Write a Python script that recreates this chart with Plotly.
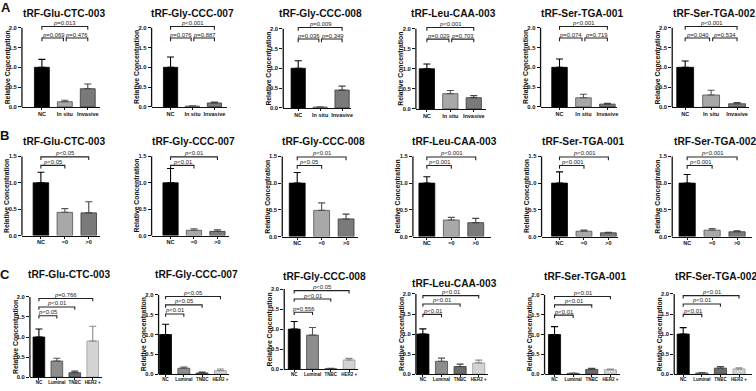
import plotly.graph_objects as go

W, H = 756, 391
FONT = "Liberation Sans, Arial, sans-serif"

# ---------------- data ----------------
titles = ["tRF-Glu-CTC-003", "tRF-Gly-CCC-007", "tRF-Gly-CCC-008",
          "tRF-Leu-CAA-003", "tRF-Ser-TGA-001", "tRF-Ser-TGA-002"]

groups_a = ["NC", "In situ", "Invasive"]
groups_b = ["NC", "=0", ">0"]
groups_c = ["NC", "Luminal", "TNBC", "HER2 +"]

mean_a = [[1.0, 0.13, 0.46], [1.0, 0.02, 0.10], [1.0, 0.02, 0.45],
          [1.0, 0.38, 0.28], [1.0, 0.23, 0.07], [1.0, 0.30, 0.08]]
sem_a = [[0.20, 0.04, 0.12], [0.26, 0.01, 0.02], [0.19, 0.01, 0.10],
         [0.12, 0.08, 0.05], [0.21, 0.09, 0.02], [0.16, 0.12, 0.03]]
p_a = [["p=0.013", "p=0.069", "p=0.476"], ["p<0.001", "p=0.076", "p=0.887"],
       ["p=0.009", "p=0.036", "p=0.349"], ["p<0.001", "p=0.029", "p=0.703"],
       ["p<0.001", "p=0.074", "p=0.719"], ["p<0.001", "p=0.040", "p=0.534"]]

mean_b = [[1.0, 0.44, 0.43], [1.0, 0.10, 0.08], [1.0, 0.49, 0.33],
          [1.0, 0.31, 0.26], [1.0, 0.10, 0.07], [1.0, 0.12, 0.09]]
sem_b = [[0.20, 0.07, 0.21], [0.27, 0.03, 0.03], [0.20, 0.14, 0.09],
         [0.12, 0.05, 0.08], [0.21, 0.02, 0.01], [0.16, 0.03, 0.02]]
p_b = [["p<0.05", "p<0.05"], ["p<0.01", "p<0.01"], ["p<0.01", "p<0.05"],
       ["p<0.001", "p<0.001"], ["p<0.001", "p<0.001"], ["p<0.001", "p<0.001"]]

mean_c = [[1.0, 0.40, 0.11, 0.90], [1.0, 0.15, 0.03, 0.09], [1.0, 0.85, 0.01, 0.23],
          [1.0, 0.32, 0.19, 0.28], [1.0, 0.02, 0.12, 0.11], [1.0, 0.03, 0.15, 0.13]]
sem_c = [[0.20, 0.07, 0.04, 0.37], [0.26, 0.03, 0.02, 0.04], [0.19, 0.19, 0.01, 0.04],
         [0.13, 0.08, 0.06, 0.07], [0.20, 0.01, 0.03, 0.02], [0.16, 0.01, 0.04, 0.03]]
p_c = [["p=0.766", "p<0.01", "p<0.05"], ["p<0.05", "p<0.05", "p<0.01"],
       ["p<0.05", "p<0.01", "p=0.556"], ["p<0.01", "p<0.01", "p<0.01"],
       ["p<0.01", "p<0.01", "p<0.01"], ["p<0.01", "p<0.01", "p<0.01"]]

yticks_a = [0.0, 0.5, 1.0, 1.5, 2.0]
yticks_b = [0.0, 0.5, 1.0, 1.5]
yticks_c = [0.0, 0.5, 1.0, 1.5, 2.0]

# ---------------- styling / geometry ----------------
fill_ab = ["#000000", "#a8a8a8", "#7a7a7a"]
line_ab = ["#000000", "#505050", "#3a3a3a"]
err_ab = ["#000000", "#555555", "#444444"]
fill_c = ["#000000", "#8d8d8d", "#6a6a6a", "#d3d3d3"]
line_c = ["#000000", "#4a4a4a", "#3a3a3a", "#9a9a9a"]
err_c = ["#000000", "#555555", "#444444", "#8a8a8a"]

# (axis left px, axis right px, first bar centre px, last bar centre px, y=0 px, top tick px)
geom_a = [(22, 100, 42, 88, 107, 27), (152, 228, 171, 215, 107, 27),
          (284, 352, 299, 343, 108, 28), (417, 487, 428, 475, 109, 28),
          (542, 619, 561, 609, 107, 27), (674, 751, 687, 739, 107, 27)]
geom_b = [(22, 100, 41, 89, 237, 157), (152, 230, 171, 218, 237, 157),
          (283, 359, 298, 347, 238, 157), (414, 492, 428, 477, 238, 157),
          (543, 620, 561, 610, 238, 157), (674, 754, 689, 739, 238, 157)]
geom_c = [(30, 102, 39, 93, 380, 299), (159, 230, 166, 221, 377, 297),
          (285, 359, 295, 350, 372, 291), (417, 489, 424, 480, 377, 296),
          (546, 622, 556, 612, 377, 297), (676, 754, 685, 741, 377, 296)]

title_y_a = [13] * 6
title_y_b = [142] * 6
title_y_c = [276, 276, 278, 285, 278, 278]

g = 0.06
brackets_a = [[(0, 2, 2.03), (0, 1 - g, 1.74), (1 + g, 2, 1.74)]] * 6
brackets_b = [[(0, 2, 1.49), (0, 1, 1.33)]] * 6
lows_c = [1.53, 1.52, 1.42, 1.49, 1.49, 1.49]
brackets_c = [[(0, 3, 1.96), (0, 2, 1.75), (0, 1, lo)] for lo in lows_c]

rows = [
    dict(groups=groups_a, means=mean_a, sems=sem_a, ps=p_a, fills=fill_ab, lines=line_ab,
         errs=err_ab, yticks=yticks_a, ymax=2.08, br=brackets_a, drop=0.08, geom=geom_a,
         ty=title_y_a, xfs=5.5, bw=0.65, stand=-1),
    dict(groups=groups_b, means=mean_b, sems=sem_b, ps=p_b, fills=fill_ab, lines=line_ab,
         errs=err_ab, yticks=yticks_b, ymax=1.54, br=brackets_b, drop=0.06, geom=geom_b,
         ty=title_y_b, xfs=5.5, bw=0.65, stand=-1),
    dict(groups=groups_c, means=mean_c, sems=sem_c, ps=p_c, fills=fill_c, lines=line_c,
         errs=err_c, yticks=yticks_c, ymax=2.04, br=brackets_c, drop=0.07, geom=geom_c,
         ty=title_y_c, xfs=4.5, bw=0.65, stand=-2),
]

fig = go.Figure()
layout = {}
annotations = []
shapes = []
k = 0
for row in rows:
    for j in range(6):
        k += 1
        sfx = "" if k == 1 else str(k)
        xa, ya = "x" + sfx, "y" + sfx
        xl, xr, c0, c1, y0, yt = row["geom"][j]
        groups = row["groups"]
        n = len(groups)
        ppu = (c1 - c0) / (n - 1)
        xlo = -(c0 - xl) / ppu
        xhi = (n - 1) + (xr - c1) / ppu
        ytop = row["yticks"][-1]
        ppv = (y0 - yt) / ytop
        top_px = y0 - row["ymax"] * ppv

        for i in range(n):
            fig.add_trace(go.Bar(
                x=[i], y=[row["means"][j][i]], width=row["bw"],
                marker=dict(color=row["fills"][i], line=dict(color=row["lines"][i], width=0.8)),
                error_y=dict(type="data", array=[row["sems"][j][i]], arrayminus=[0],
                             symmetric=False, color=row["errs"][i], thickness=1.1, width=3.5),
                xaxis=xa, yaxis=ya, showlegend=False, hoverinfo="skip"))

        layout["xaxis" + sfx] = dict(
            domain=[xl / W, xr / W], range=[xlo, xhi], anchor=ya,
            tickvals=list(range(n)), ticktext=groups, tickangle=0,
            showline=True, linecolor="#111111", linewidth=1.3,
            ticks="outside", ticklen=2, tickwidth=1, tickcolor="#111111",
            ticklabelstandoff=row["stand"],
            tickfont=dict(size=row["xfs"], family=FONT, color="#111111", weight="bold"),
            showgrid=False, zeroline=False, fixedrange=True)
        layout["yaxis" + sfx] = dict(
            domain=[1 - y0 / H, 1 - top_px / H], range=[0, row["ymax"]], anchor=xa,
            tickvals=row["yticks"], ticktext=[f"{v:.1f}" for v in row["yticks"]],
            showline=False, ticks="outside", ticklen=3, tickwidth=1, tickcolor="#111111",
            tickfont=dict(size=5.8, family=FONT, color="#111111", weight="bold"),
            showgrid=False, zeroline=False, fixedrange=True)

        # y axis line up to the top tick
        shapes.append(dict(type="line", xref=xa + " domain", yref=ya + " domain",
                           x0=0, x1=0, y0=0, y1=ytop / row["ymax"],
                           line=dict(color="#111111", width=1.3)))

        # significance brackets
        d = row["drop"]
        for (a, b, lev), ptxt in zip(row["br"][j], row["ps"][j]):
            shapes.append(dict(type="path", xref=xa, yref=ya,
                               path=f"M {a},{lev - d} L {a},{lev} L {b},{lev} L {b},{lev - d}",
                               line=dict(color="#222222", width=1.1)))
            annotations.append(dict(xref=xa, yref=ya, x=(a + b) / 2, y=lev,
                                    text="<i>p</i>" + ptxt[1:], showarrow=False,
                                    yanchor="bottom", yshift=-1.5,
                                    font=dict(size=5.9, family=FONT, color="#222222")))

        # panel title
        annotations.append(dict(xref="paper", yref="paper", x=((xl + xr) / 2 + 3) / W,
                                y=1 - row["ty"][j] / H, text=titles[j], showarrow=False,
                                xanchor="center", yanchor="middle",
                                font=dict(size=10.2, family=FONT, color="#111111", weight="bold")))
        # y axis title
        annotations.append(dict(xref="paper", yref="paper", x=(xl - 15) / W,
                                y=1 - ((y0 + yt) / 2) / H, text="Relative Concentration",
                                textangle=-90, showarrow=False, xanchor="center", yanchor="middle",
                                font=dict(size=6.8, family=FONT, color="#111111", weight="bold")))

for letter, (lx, ly) in zip(["A", "B", "C"], [(6, 7), (5, 136), (5, 276)]):
    annotations.append(dict(xref="paper", yref="paper", x=lx / W, y=1 - ly / H, text=letter,
                            showarrow=False, xanchor="center", yanchor="middle",
                            font=dict(size=13, family=FONT, color="#111111", weight="bold")))

fig.update_layout(**layout)
fig.update_layout(width=W, height=H, margin=dict(l=0, r=0, t=0, b=0),
                  paper_bgcolor="white", plot_bgcolor="white", barmode="overlay",
                  showlegend=False, annotations=annotations, shapes=shapes)

fig.write_html("out.html", config={"displayModeBar": False},
               post_script="document.body.style.margin='0';document.body.style.overflow='hidden';")
